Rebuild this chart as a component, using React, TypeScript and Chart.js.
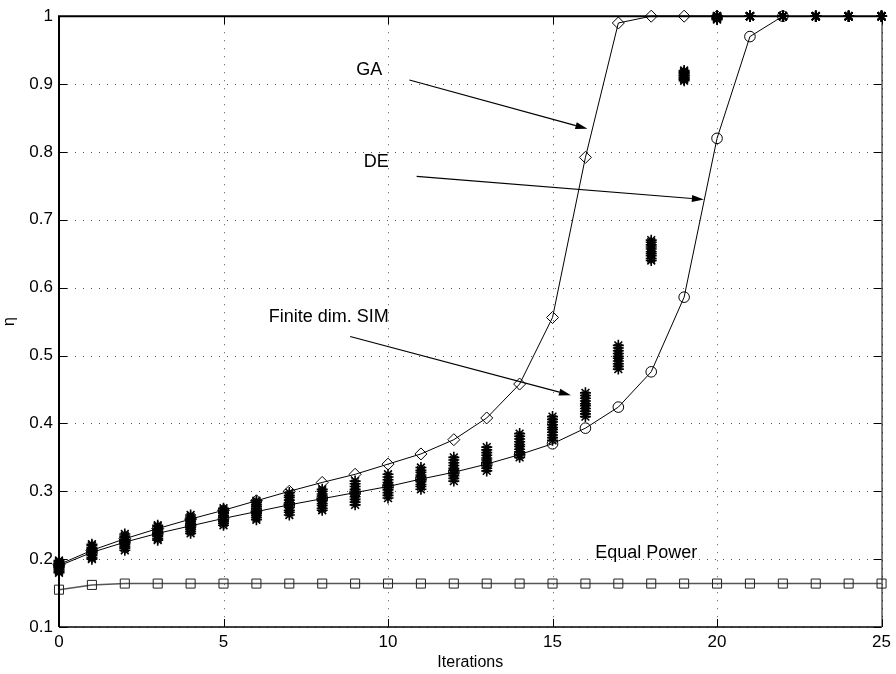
import React, { useEffect, useRef } from "react";
import { Chart, registerables } from "chart.js";

Chart.register(...registerables);

const iterations = [0, 1, 2, 3, 4, 5, 6, 7, 8, 9, 10, 11, 12, 13, 14, 15, 16, 17, 18, 19, 20, 21, 22, 23, 24, 25];

const gaValues = [0.192, 0.213, 0.23, 0.245, 0.259, 0.272, 0.286, 0.3, 0.313, 0.325, 0.34, 0.355, 0.376, 0.408, 0.458, 0.556, 0.792, 0.99, 1, 1, 1];
const deValues = [0.19, 0.21, 0.225, 0.238, 0.249, 0.26, 0.27, 0.28, 0.289, 0.298, 0.307, 0.318, 0.328, 0.34, 0.354, 0.37, 0.393, 0.424, 0.476, 0.586, 0.82, 0.97, 1];
const equalPowerValues = [0.155, 0.162, 0.164, 0.164, 0.164, 0.164, 0.164, 0.164, 0.164, 0.164, 0.164, 0.164, 0.164, 0.164, 0.164, 0.164, 0.164, 0.164, 0.164, 0.164, 0.164, 0.164, 0.164, 0.164, 0.164, 0.164];

// Finite dim. SIM: several runs plotted as stars
const simRun1 = [0.180, 0.200, 0.213, 0.228, 0.238, 0.250, 0.258, 0.265, 0.272, 0.280, 0.290, 0.303, 0.315, 0.330, 0.350, 0.375, 0.410, 0.480, 0.640, 0.905, 0.995, 1, 1, 1, 1, 1];
const simRun2 = [0.182, 0.202, 0.216, 0.230, 0.241, 0.253, 0.261, 0.269, 0.275, 0.284, 0.294, 0.307, 0.319, 0.334, 0.354, 0.379, 0.414, 0.484, 0.643, 0.907, 0.996, 1, 1, 1, 1, 1];
const simRun3 = [0.184, 0.205, 0.218, 0.233, 0.244, 0.256, 0.264, 0.272, 0.279, 0.288, 0.298, 0.310, 0.323, 0.338, 0.358, 0.383, 0.418, 0.488, 0.647, 0.908, 0.997, 1, 1, 1, 1, 1];
const simRun4 = [0.186, 0.207, 0.221, 0.235, 0.247, 0.258, 0.267, 0.276, 0.282, 0.292, 0.302, 0.314, 0.327, 0.342, 0.362, 0.387, 0.422, 0.492, 0.650, 0.910, 0.998, 1, 1, 1, 1, 1];
const simRun5 = [0.188, 0.210, 0.224, 0.238, 0.250, 0.261, 0.270, 0.280, 0.286, 0.296, 0.306, 0.317, 0.331, 0.346, 0.366, 0.391, 0.426, 0.496, 0.653, 0.912, 0.999, 1, 1, 1, 1, 1];
const simRun6 = [0.190, 0.212, 0.226, 0.240, 0.253, 0.264, 0.274, 0.283, 0.289, 0.299, 0.309, 0.321, 0.334, 0.349, 0.369, 0.394, 0.429, 0.499, 0.657, 0.913, 1, 1, 1, 1, 1, 1];
const simRun7 = [0.192, 0.215, 0.229, 0.243, 0.256, 0.267, 0.277, 0.287, 0.293, 0.303, 0.313, 0.324, 0.338, 0.353, 0.373, 0.398, 0.433, 0.503, 0.660, 0.915, 1, 1, 1, 1, 1, 1];
const simRun8 = [0.194, 0.217, 0.232, 0.245, 0.259, 0.269, 0.280, 0.291, 0.296, 0.307, 0.317, 0.328, 0.342, 0.357, 0.377, 0.402, 0.437, 0.507, 0.663, 0.917, 1, 1, 1, 1, 1, 1];
const simRun9 = [0.196, 0.220, 0.234, 0.248, 0.262, 0.272, 0.283, 0.294, 0.300, 0.311, 0.321, 0.331, 0.346, 0.361, 0.381, 0.406, 0.441, 0.511, 0.667, 0.918, 1, 1, 1, 1, 1, 1];
const simRun10 = [0.198, 0.222, 0.237, 0.250, 0.265, 0.275, 0.286, 0.298, 0.303, 0.315, 0.325, 0.335, 0.350, 0.365, 0.385, 0.410, 0.445, 0.515, 0.670, 0.920, 1, 1, 1, 1, 1, 1];
const simRuns = [simRun1, simRun2, simRun3, simRun4, simRun5, simRun6, simRun7, simRun8, simRun9, simRun10];

const yTicks = [0.1, 0.2, 0.3, 0.4, 0.5, 0.6, 0.7, 0.8, 0.9, 1];
const xTicks = [0, 5, 10, 15, 20, 25];

// annotations in data coordinates: label position, arrow start, arrow tip
const annotationLabels = ["GA", "DE", "Finite dim. SIM", "Equal Power"];
const annotationTextPos = [[9.43, 0.92], [9.64, 0.785], [8.2, 0.556], [17.85, 0.2085]];
const annotationArrows = [
  [[10.65, 0.906], [16.06, 0.834]],
  [[10.87, 0.764], [19.6, 0.73]],
  [[8.85, 0.528], [15.56, 0.4415]],
  null,
];

const FONT = "'Liberation Sans', Arial, Helvetica, sans-serif";

const toPoints = (vals: number[]) => vals.map((v, i) => ({ x: iterations[i], y: v }));

const framePlugin = {
  id: "matlabFrame",
  beforeDatasetsDraw(chart: any) {
    const { ctx, chartArea: a, scales } = chart;
    const xs = scales.x;
    const ys = scales.y;
    ctx.save();
    ctx.strokeStyle = "#555";
    ctx.lineWidth = 1;
    ctx.setLineDash([1, 7]);
    xTicks.forEach((t) => {
      const px = Math.round(xs.getPixelForValue(t)) + 0.5;
      ctx.beginPath();
      ctx.moveTo(px, a.top);
      ctx.lineTo(px, a.bottom);
      ctx.stroke();
    });
    yTicks.forEach((t) => {
      const py = Math.round(ys.getPixelForValue(t)) + 0.5;
      ctx.beginPath();
      ctx.moveTo(a.left, py);
      ctx.lineTo(a.right, py);
      ctx.stroke();
    });
    ctx.restore();
  },
  afterDatasetsDraw(chart: any) {
    const { ctx, chartArea: a, scales } = chart;
    const xs = scales.x;
    const ys = scales.y;
    ctx.save();
    ctx.strokeStyle = "#000";
    ctx.setLineDash([]);
    // box
    ctx.lineWidth = 2;
    ctx.beginPath();
    ctx.moveTo(a.left, a.bottom);
    ctx.lineTo(a.left, a.top);
    ctx.lineTo(a.right, a.top);
    ctx.stroke();
    ctx.lineWidth = 1.5;
    ctx.beginPath();
    ctx.moveTo(a.left, a.bottom);
    ctx.lineTo(a.right, a.bottom);
    ctx.stroke();
    ctx.lineWidth = 1;
    ctx.beginPath();
    ctx.moveTo(a.right + 0.5, a.top);
    ctx.lineTo(a.right + 0.5, a.bottom);
    ctx.stroke();
    // inward ticks
    const tl = 8;
    ctx.lineWidth = 1;
    ctx.beginPath();
    xTicks.forEach((t) => {
      const px = Math.round(xs.getPixelForValue(t)) + 0.5;
      ctx.moveTo(px, a.bottom);
      ctx.lineTo(px, a.bottom - tl);
      ctx.moveTo(px, a.top);
      ctx.lineTo(px, a.top + tl);
    });
    yTicks.forEach((t) => {
      const py = Math.round(ys.getPixelForValue(t)) + 0.5;
      ctx.moveTo(a.left, py);
      ctx.lineTo(a.left + tl, py);
      ctx.moveTo(a.right, py);
      ctx.lineTo(a.right - tl, py);
    });
    ctx.stroke();

    // annotations
    ctx.fillStyle = "#000";
    ctx.font = `18px ${FONT}`;
    ctx.textAlign = "center";
    ctx.textBaseline = "middle";
    annotationLabels.forEach((label, i) => {
      const [tx, ty] = annotationTextPos[i];
      ctx.fillText(label, xs.getPixelForValue(tx), ys.getPixelForValue(ty));
      const arr = annotationArrows[i];
      if (arr) {
        const x0 = xs.getPixelForValue(arr[0][0]);
        const y0 = ys.getPixelForValue(arr[0][1]);
        const x1 = xs.getPixelForValue(arr[1][0]);
        const y1 = ys.getPixelForValue(arr[1][1]);
        const ang = Math.atan2(y1 - y0, x1 - x0);
        const hl = 12;
        const hw = 3.5;
        const bx = x1 - hl * Math.cos(ang);
        const by = y1 - hl * Math.sin(ang);
        ctx.lineWidth = 1.2;
        ctx.beginPath();
        ctx.moveTo(x0, y0);
        ctx.lineTo(bx, by);
        ctx.stroke();
        ctx.beginPath();
        ctx.moveTo(x1, y1);
        ctx.lineTo(bx + hw * Math.sin(ang), by - hw * Math.cos(ang));
        ctx.lineTo(bx - hw * Math.sin(ang), by + hw * Math.cos(ang));
        ctx.closePath();
        ctx.fill();
      }
    });
    ctx.restore();
  },
};

export default function App() {
  const canvasRef = useRef<HTMLCanvasElement | null>(null);

  useEffect(() => {
    if (!canvasRef.current) return;
    const simDatasets = simRuns.map((run, i) => ({
      label: `Finite dim. SIM ${i + 1}`,
      data: toPoints(run),
      showLine: false,
      pointStyle: "star",
      pointRadius: 5.5,
      pointBorderWidth: 1.6,
      pointBorderColor: "#000",
      pointBackgroundColor: "#000",
      borderColor: "#000",
      clip: false,
      order: 5,
    }));
    const chart = new Chart(canvasRef.current, {
      type: "line",
      data: {
        datasets: [
          ...simDatasets,
          {
            label: "GA",
            data: toPoints(gaValues),
            borderColor: "#000",
            borderWidth: 1,
            pointStyle: "rectRot",
            pointRadius: 6,
            pointBorderWidth: 1,
            pointBorderColor: "#000",
            pointBackgroundColor: "rgba(0,0,0,0)",
            tension: 0,
            clip: false,
            order: 2,
          },
          {
            label: "DE",
            data: toPoints(deValues),
            borderColor: "#000",
            borderWidth: 1,
            pointStyle: "circle",
            pointRadius: 5.3,
            pointBorderWidth: 1,
            pointBorderColor: "#000",
            pointBackgroundColor: "rgba(0,0,0,0)",
            tension: 0,
            clip: false,
            order: 2,
          },
          {
            label: "Equal Power",
            data: toPoints(equalPowerValues),
            borderColor: "#555",
            borderWidth: 1.5,
            pointStyle: "rect",
            pointRadius: 6.4,
            pointBorderWidth: 1,
            pointBorderColor: "#222",
            pointBackgroundColor: "rgba(0,0,0,0)",
            tension: 0,
            clip: false,
            order: 2,
          },
        ],
      },
      options: {
        animation: false,
        responsive: false,
        maintainAspectRatio: false,
        layout: { padding: { top: 13, right: 13, left: 0, bottom: 0 } },
        plugins: {
          legend: { display: false },
          tooltip: { enabled: false },
        },
        scales: {
          x: {
            type: "linear",
            min: 0,
            max: 25,
            grid: { display: false, drawTicks: false },
            border: { display: false },
            ticks: {
              stepSize: 5,
              padding: 5,
              color: "#000",
              font: { family: FONT, size: 17 },
            },
            title: {
              display: true,
              text: "Iterations",
              color: "#000",
              font: { family: FONT, size: 16 },
              padding: { top: 0, bottom: 2 },
            },
            afterFit: (s: any) => {
              s.height = 47;
            },
          },
          y: {
            type: "linear",
            min: 0.1,
            max: 1,
            grid: { display: false, drawTicks: false },
            border: { display: false },
            ticks: {
              stepSize: 0.1,
              padding: 6,
              color: "#000",
              font: { family: FONT, size: 17 },
              callback: (v: any) => String(Number(Number(v).toFixed(1))),
            },
            title: {
              display: true,
              text: "η",
              color: "#000",
              font: { family: FONT, size: 16 },
              padding: { top: 0, bottom: 2 },
            },
            afterFit: (s: any) => {
              s.width = 59;
            },
          },
        },
      } as any,
      plugins: [framePlugin],
    });
    return () => chart.destroy();
  }, []);

  return (
    <div style={{ position: "absolute", left: 0, top: 0, width: 896, height: 674, background: "#fff" }}>
      <canvas ref={canvasRef} width={896} height={674} style={{ width: 896, height: 674 }} />
    </div>
  );
}
